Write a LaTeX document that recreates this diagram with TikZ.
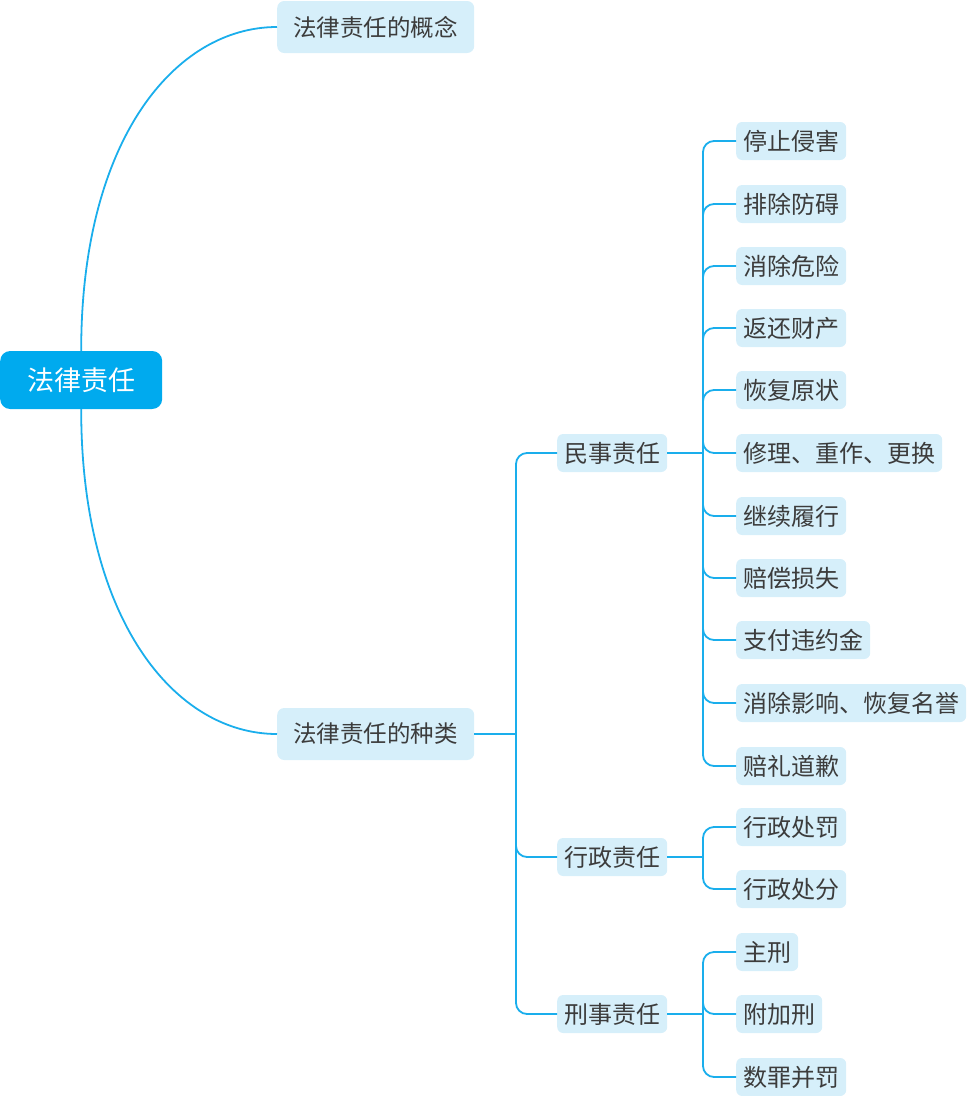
\documentclass[tikz,border=0pt]{standalone}
\usepackage{fontspec}
\setmainfont{Noto Sans CJK SC}
\definecolor{linec}{RGB}{26,174,236}
\definecolor{boxc}{RGB}{214,239,250}
\definecolor{rootc}{RGB}{0,170,238}
\definecolor{txtc}{RGB}{60,60,60}
\begin{document}
\begin{tikzpicture}[x=1pt,y=-1pt,
  leaf/.style={fill=boxc, rounded corners=6pt, minimum height=38pt, inner xsep=7pt, inner ysep=0pt,
    font=\fontsize{24}{25}\selectfont, text=txtc, anchor=west},
  lvlone/.style={fill=boxc, rounded corners=7pt, minimum height=52pt, minimum width=197pt, inner sep=0pt,
    font=\fontsize{23.5}{24}\selectfont, text=txtc, anchor=west},
  rootbox/.style={fill=rootc, rounded corners=10pt, minimum height=58pt, minimum width=162pt, inner sep=0pt,
    font=\fontsize{27}{28}\selectfont, text=white, anchor=west},
  conn/.style={draw=linec, line width=1.8pt, rounded corners=11pt},
  curv/.style={draw=linec, line width=1.8pt}]
\useasboundingbox (0,0) rectangle (968,1096);

\node[rootbox] (root) at (0,380) {法律责任};
\node[lvlone] (concept) at (277,27) {法律责任的概念};
\node[lvlone] (kinds) at (277,734) {法律责任的种类};

\node[leaf] (civil) at (557,453) {民事责任};
\node[leaf] (admin) at (557,857) {行政责任};
\node[leaf] (crim) at (557,1014) {刑事责任};

\node[leaf] (c1) at (736,141) {停止侵害};
\node[leaf] (c2) at (736,204) {排除防碍};
\node[leaf] (c3) at (736,266) {消除危险};
\node[leaf] (c4) at (736,328) {返还财产};
\node[leaf] (c5) at (736,390) {恢复原状};
\node[leaf] (c6) at (736,453) {修理、重作、更换};
\node[leaf] (c7) at (736,516) {继续履行};
\node[leaf] (c8) at (736,578) {赔偿损失};
\node[leaf] (c9) at (736,640) {支付违约金};
\node[leaf] (c10) at (736,703) {消除影响、恢复名誉};
\node[leaf] (c11) at (736,766) {赔礼道歉};

\node[leaf] (a1) at (736,827) {行政处罚};
\node[leaf] (a2) at (736,889) {行政处分};

\node[leaf] (k1) at (736,952) {主刑};
\node[leaf] (k2) at (736,1014) {附加刑};
\node[leaf] (k3) at (736,1077) {数罪并罚};

\coordinate (j1) at (516,734);
\coordinate (j2) at (703,453);
\coordinate (j3) at (703,857);
\coordinate (j4) at (703,1014);

\draw[curv] (root.north) .. controls (81,140) and (175,27) .. (concept.west);
\draw[curv] (root.south) .. controls (81,620) and (175,734) .. (kinds.west);

\draw[conn] (kinds.east) -- (j1);
\foreach \n in {civil,admin,crim} \draw[conn] (j1) |- (\n.west);

\draw[conn] (civil.east) -- (j2);
\foreach \n in {c1,c2,c3,c4,c5,c6,c7,c8,c9,c10,c11} \draw[conn] (j2) |- (\n.west);

\draw[conn] (admin.east) -- (j3);
\foreach \n in {a1,a2} \draw[conn] (j3) |- (\n.west);

\draw[conn] (crim.east) -- (j4);
\foreach \n in {k1,k2,k3} \draw[conn] (j4) |- (\n.west);
\end{tikzpicture}
\end{document}
